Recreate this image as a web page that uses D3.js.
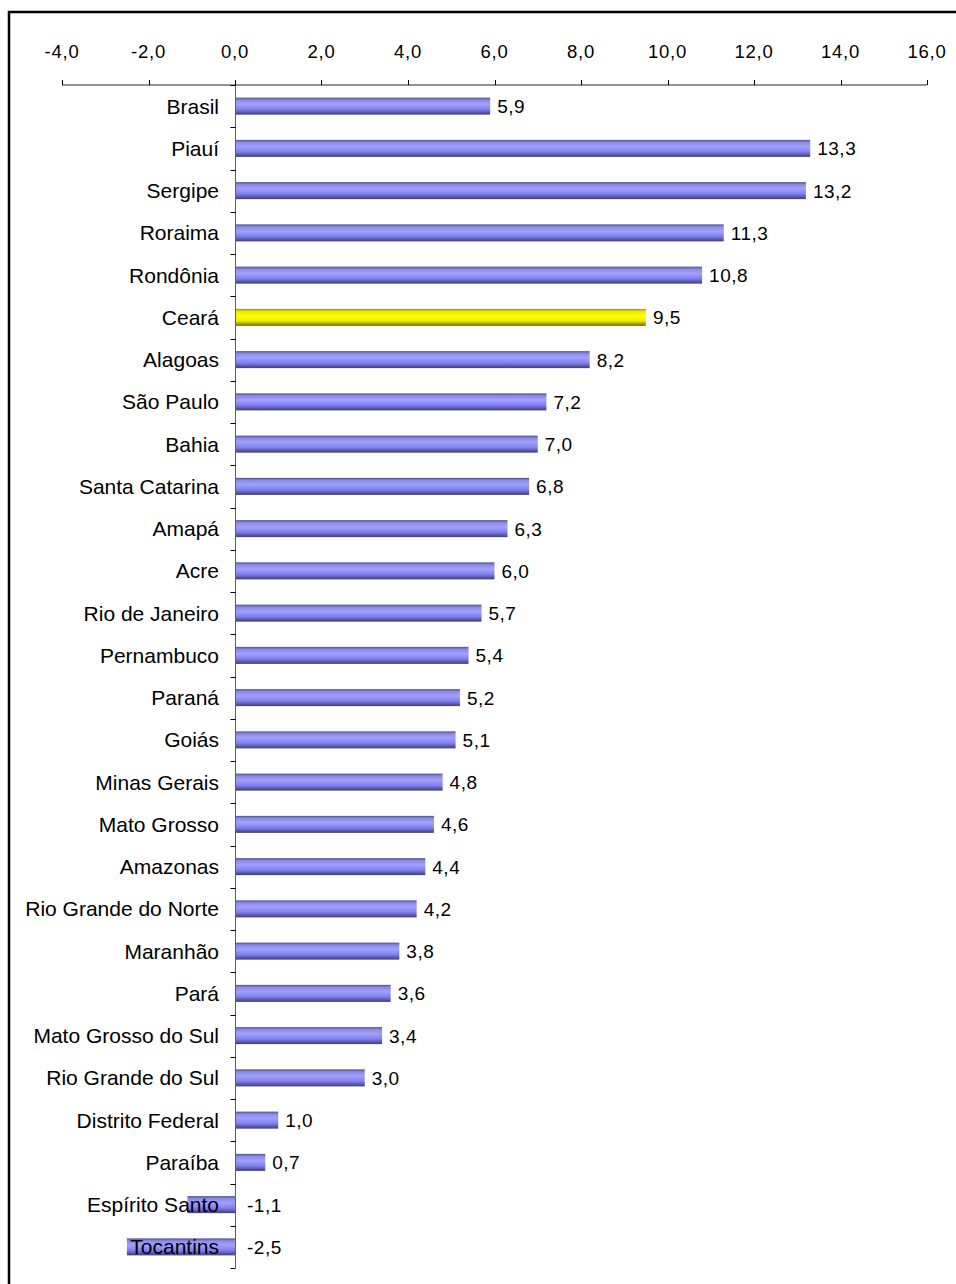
<!DOCTYPE html>
<meta charset="utf-8">
<title>Variação por UF</title>
<style>
body { margin: 0; background: #fff; font-family: "Liberation Sans", Arial, sans-serif; }
svg { display: block; }
text { fill: #000; }
.cat { font-size: 21px; }
.val { font-size: 19px; letter-spacing: 0.5px; }
.tk { font-size: 18.5px; letter-spacing: 0.8px; }
</style>
<body>
<div id="graph"></div>
</body>
<script src="https://cdn.jsdelivr.net/npm/d3@7"></script>
<script>

var states = ['Brasil','Piauí','Sergipe','Roraima','Rondônia','Ceará','Alagoas','São Paulo','Bahia',
  'Santa Catarina','Amapá','Acre','Rio de Janeiro','Pernambuco','Paraná','Goiás','Minas Gerais',
  'Mato Grosso','Amazonas','Rio Grande do Norte','Maranhão','Pará','Mato Grosso do Sul',
  'Rio Grande do Sul','Distrito Federal','Paraíba','Espírito Santo','Tocantins']
var values = [5.9,13.3,13.2,11.3,10.8,9.5,8.2,7.2,7.0,6.8,6.3,6.0,5.7,5.4,5.2,5.1,4.8,4.6,4.4,4.2,
  3.8,3.6,3.4,3.0,1.0,0.7,-1.1,-2.5]
var xTicks = [-4,-2,0,2,4,6,8,10,12,14,16]
var highlight = 'Ceará'

var W = 956, H = 1284
var pt = d3.formatLocale({decimal: ',', thousands: '.', grouping: [3], currency: ['R$', ''], minus: '-'}).format('.1f')

var svg = d3.select('#graph').append('svg').attr('width', W).attr('height', H)

// frame (runs off the right and bottom like the original)
svg.append('rect').attr('x', 9).attr('y', 12).attr('width', W + 20).attr('height', H + 20)
  .attr('fill', 'none').attr('stroke', '#000').attr('stroke-width', 2.5)

var x = d3.scaleLinear().domain([-4, 16]).range([62, 927])
var yb = d3.scaleBand().domain(states).range([85, 1268])
var mid = d => yb(d) + yb.bandwidth() / 2

var defs = svg.append('defs')
function grad(id, stops){
  var g = defs.append('linearGradient').attr('id', id).attr('x1', 0).attr('y1', 0).attr('x2', 0).attr('y2', 1)
  stops.forEach(function(s){ g.append('stop').attr('offset', s[0]).attr('stop-color', s[1]) })
}
grad('blue', [[0, '#50508c'], [0.15, '#8c8ce6'], [0.4, '#a0a0ff'], [0.7, '#8080ee'], [1, '#3c3c78']])
grad('yellow', [[0, '#999900'], [0.15, '#e6e600'], [0.4, '#ffff00'], [0.7, '#eeee00'], [1, '#6e6e00']])

// top axis
var ax = svg.append('g').attr('transform', 'translate(0,85)')
ax.append('line').attr('x1', x(-4)).attr('x2', x(16)).attr('stroke', '#707070').attr('stroke-width', 1.5)
ax.selectAll('line.tick').data(xTicks).join('line').attr('class', 'tick')
  .attr('x1', d => Math.round(x(d)) + 0.5).attr('x2', d => Math.round(x(d)) + 0.5)
  .attr('y1', -5).attr('y2', 0).attr('stroke', '#000')
ax.selectAll('text').data(xTicks).join('text').attr('class', 'tk')
  .attr('x', d => x(d)).attr('y', -27).attr('text-anchor', 'middle').text(d => pt(d))

// bars
svg.selectAll('rect.bar').data(values).join('rect').attr('class', 'bar')
  .attr('x', d => x(Math.min(0, d))).attr('width', d => Math.abs(x(d) - x(0)))
  .attr('y', (d, i) => mid(states[i]) - 8.5).attr('height', 17)
  .attr('fill', (d, i) => states[i] == highlight ? 'url(#yellow)' : 'url(#blue)')

// category labels (drawn over the negative bars)
svg.selectAll('text.cat').data(states).join('text').attr('class', 'cat')
  .attr('x', 219).attr('y', d => mid(d) + 7.5)
  .attr('text-anchor', 'end').text(d => d)

// value labels
svg.selectAll('text.val').data(values).join('text').attr('class', 'val')
  .attr('x', d => d >= 0 ? x(d) + 7 : x(0) + 12)
  .attr('y', (d, i) => mid(states[i]) + 7)
  .text(d => pt(d))

// category axis
var cx = Math.round(x(0)) + 0.5
svg.append('line').attr('x1', cx).attr('x2', cx).attr('y1', 85).attr('y2', 1268).attr('stroke', '#606060')
svg.selectAll('line.ctick').data(states.concat(['end'])).join('line').attr('class', 'ctick')
  .attr('x1', cx - 5).attr('x2', cx)
  .attr('y1', (d, i) => Math.round(85 + i * yb.step()) + 0.5).attr('y2', (d, i) => Math.round(85 + i * yb.step()) + 0.5)
  .attr('stroke', '#000')

</script>
